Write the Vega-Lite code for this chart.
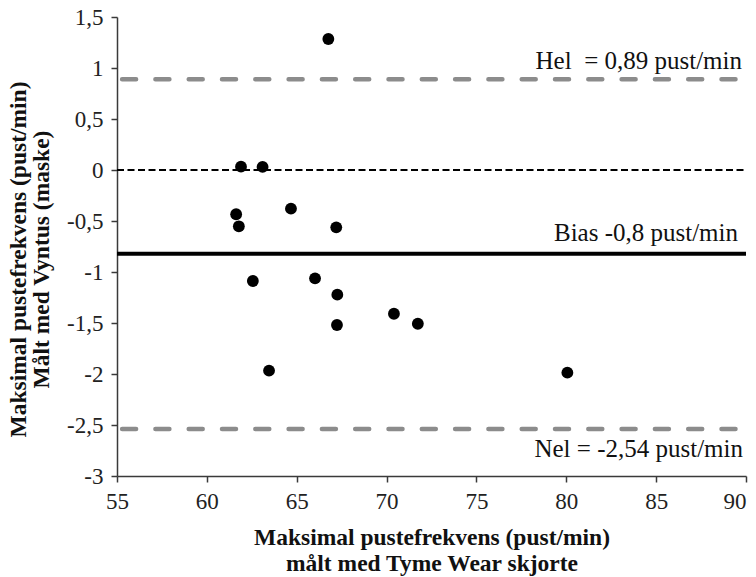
{
  "$schema": "https://vega.github.io/schema/vega-lite/v6.json",
  "autosize": "none",
  "width": 629,
  "height": 459,
  "padding": {"left": 117, "top": 17, "right": 10, "bottom": 101},
  "background": "white",
  "config": {
    "view": {"stroke": null},
    "font": "Liberation Serif",
    "axis": {"grid": false}
  },
  "datasets": {
    "points": [
      {"tyme": 66.76, "diff": 1.284},
      {"tyme": 61.9, "diff": 0.033},
      {"tyme": 63.1, "diff": 0.03},
      {"tyme": 61.63, "diff": -0.434},
      {"tyme": 61.78, "diff": -0.552},
      {"tyme": 64.68, "diff": -0.379},
      {"tyme": 67.2, "diff": -0.562},
      {"tyme": 62.56, "diff": -1.088},
      {"tyme": 66.02, "diff": -1.062},
      {"tyme": 67.26, "diff": -1.222},
      {"tyme": 70.41, "diff": -1.409},
      {"tyme": 71.74, "diff": -1.507},
      {"tyme": 67.24, "diff": -1.52},
      {"tyme": 63.46, "diff": -1.967},
      {"tyme": 80.06, "diff": -1.987}
    ],
    "refs": [
      {"name": "zero", "value": 0, "label": ""},
      {"name": "hel", "value": 0.89, "label": "Hel\u00a0 = 0,89 pust/min"},
      {"name": "nel", "value": -2.54, "label": "Nel = -2,54 pust/min"},
      {"name": "bias", "value": -0.82, "label": "Bias -0,8 pust/min"}
    ]
  },
  "layer": [
    {
      "data": {"name": "refs"},
      "transform": [{"filter": "datum.name === 'zero'"}],
      "mark": {"type": "rule", "color": "#000000", "strokeWidth": 1.8, "strokeDash": [7, 3.5], "strokeDashOffset": 8},
      "encoding": {"y": {"field": "value", "type": "quantitative"}}
    },
    {
      "data": {"name": "refs"},
      "transform": [{"filter": "datum.name === 'hel' || datum.name === 'nel'"}],
      "mark": {"type": "rule", "color": "#8c8c8c", "strokeWidth": 4.5, "strokeCap": "round", "strokeDash": [14, 19.3], "strokeDashOffset": 22.8},
      "encoding": {"y": {"field": "value", "type": "quantitative"}}
    },
    {
      "data": {"name": "refs"},
      "transform": [{"filter": "datum.name === 'bias'"}],
      "mark": {"type": "rule", "color": "#000000", "strokeWidth": 4},
      "encoding": {"y": {"field": "value", "type": "quantitative"}}
    },
    {
      "data": {"name": "points"},
      "mark": {"type": "point", "filled": true, "shape": "circle", "size": 140, "color": "#000000", "opacity": 1},
      "encoding": {
        "x": {
          "field": "tyme",
          "type": "quantitative",
          "scale": {"domain": [55, 90], "nice": false, "zero": false},
          "axis": {
            "values": [55, 60, 65, 70, 75, 80, 85, 90],
            "title": ["Maksimal pustefrekvens (pust/min)", "målt med Tyme Wear skjorte"],
            "titleFont": "Liberation Serif",
            "titleFontSize": 23.5,
            "titleFontWeight": "bold",
            "titleColor": "#111111",
            "titleLineHeight": 26,
            "titleBaseline": "alphabetic",
            "titleAlign": "center",
            "titleX": 314.5,
            "titleY": 68,
            "labelFont": "Liberation Serif",
            "labelFontSize": 23,
            "labelColor": "#222222",
            "labelPadding": 8,
            "labelFlush": false,
            "labelOverlap": false,
            "labelAlign": {"condition": {"test": "datum.value === 90", "value": "right"}, "value": "center"},
            "domainColor": "#3a3a3a",
            "domainWidth": 1.5,
            "tickColor": "#3a3a3a",
            "tickWidth": 1.5,
            "tickSize": 6
          }
        },
        "y": {
          "field": "diff",
          "type": "quantitative",
          "scale": {"domain": [-3, 1.5], "nice": false, "zero": false},
          "axis": {
            "values": [-3, -2.5, -2, -1.5, -1, -0.5, 0, 0.5, 1, 1.5],
            "labelExpr": "replace(datum.value + '', '.', ',')",
            "title": ["Maksimal pustefrekvens (pust/min)", "Målt med Vyntus (maske)"],
            "titleFont": "Liberation Serif",
            "titleFontSize": 23.5,
            "titleFontWeight": "bold",
            "titleColor": "#111111",
            "titleLineHeight": 23,
            "titleAngle": 270,
            "titleBaseline": "top",
            "titleAlign": "center",
            "titleX": -111,
            "titleY": 242,
            "labelFont": "Liberation Serif",
            "labelFontSize": 23,
            "labelColor": "#222222",
            "labelPadding": 8,
            "labelFlush": false,
            "labelOverlap": false,
            "domainColor": "#3a3a3a",
            "domainWidth": 1.5,
            "tickColor": "#3a3a3a",
            "tickWidth": 1.5,
            "tickSize": 6
          }
        }
      }
    },
    {
      "data": {"name": "refs"},
      "transform": [{"filter": "datum.name === 'hel'"}],
      "mark": {"type": "text", "font": "Liberation Serif", "fontSize": 25, "align": "right", "baseline": "alphabetic", "dx": -4, "dy": -10, "color": "#111111"},
      "encoding": {"x": {"datum": 90, "type": "quantitative"}, "y": {"field": "value", "type": "quantitative"}, "text": {"field": "label"}}
    },
    {
      "data": {"name": "refs"},
      "transform": [{"filter": "datum.name === 'bias'"}],
      "mark": {"type": "text", "font": "Liberation Serif", "fontSize": 25, "align": "right", "baseline": "alphabetic", "dx": -8, "dy": -12.6, "color": "#111111"},
      "encoding": {"x": {"datum": 90, "type": "quantitative"}, "y": {"field": "value", "type": "quantitative"}, "text": {"field": "label"}}
    },
    {
      "data": {"name": "refs"},
      "transform": [{"filter": "datum.name === 'nel'"}],
      "mark": {"type": "text", "font": "Liberation Serif", "fontSize": 25, "align": "right", "baseline": "alphabetic", "dx": -3, "dy": 27.7, "color": "#111111"},
      "encoding": {"x": {"datum": 90, "type": "quantitative"}, "y": {"field": "value", "type": "quantitative"}, "text": {"field": "label"}}
    }
  ]
}
